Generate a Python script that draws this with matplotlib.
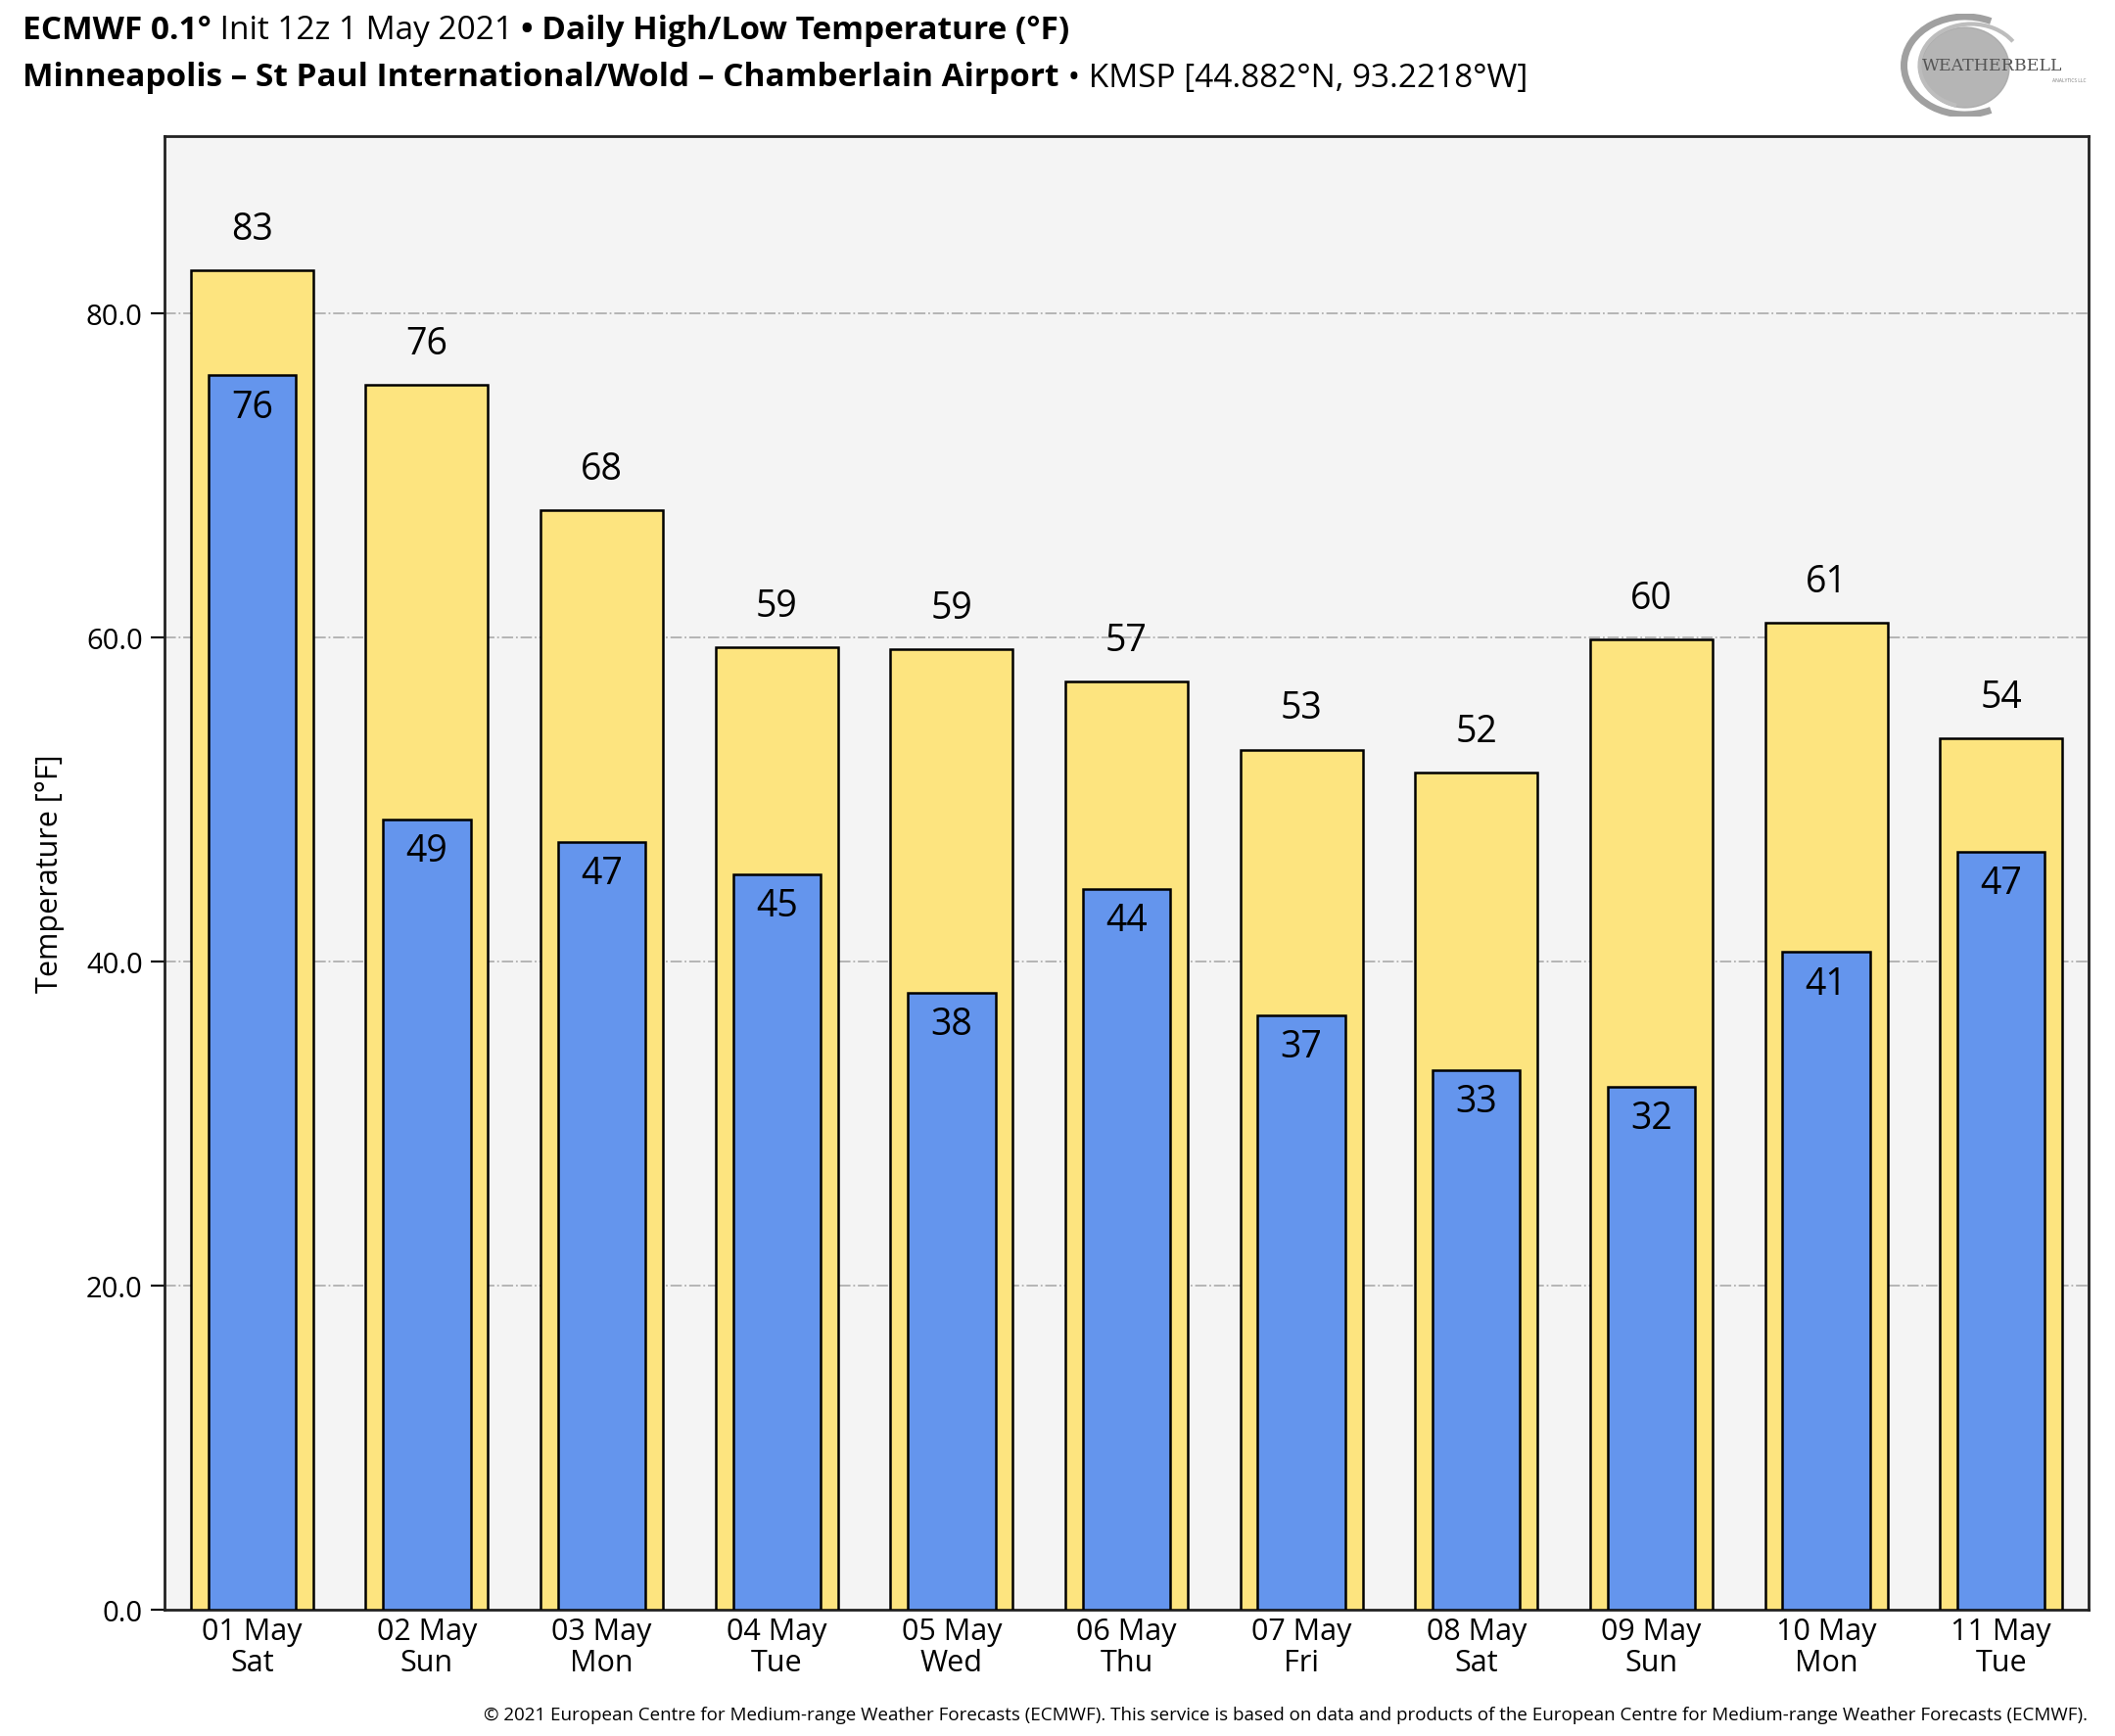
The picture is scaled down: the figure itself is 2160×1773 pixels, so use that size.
import numpy as np
import matplotlib
matplotlib.use("Agg")
import matplotlib.pyplot as plt
from matplotlib.patches import Ellipse, Arc

plt.rcParams['font.family'] = ['Open Sans', 'Noto Sans', 'DejaVu Sans']

# forecast data
days = ["01 May\nSat", "02 May\nSun", "03 May\nMon", "04 May\nTue", "05 May\nWed",
        "06 May\nThu", "07 May\nFri", "08 May\nSat", "09 May\nSun", "10 May\nMon",
        "11 May\nTue"]
highs = [82.7, 75.6, 67.9, 59.4, 59.3, 57.3, 53.1, 51.7, 59.9, 60.9, 53.8]
lows = [76.2, 48.8, 47.4, 45.4, 38.1, 44.5, 36.7, 33.3, 32.3, 40.6, 46.8]
yticks = [0, 20, 40, 60, 80]

W, H = 2160, 1774
fig = plt.figure(figsize=(W / 100, H / 100), dpi=100)
ax = fig.add_axes([168 / W, 1 - 1645 / H, (2133 - 168) / W, (1645 - 140) / H])
ax.set_facecolor('#f4f4f4')

x = np.arange(len(days))
ax.bar(x, highs, width=0.7, color='#fde47f', edgecolor='black', linewidth=1.8, zorder=3)
ax.bar(x, lows, width=0.5, color='#6495ed', edgecolor='black', linewidth=1.8, zorder=4)

for i in range(len(days)):
    ax.text(x[i], highs[i] + 1.4, "%d" % round(highs[i]), ha='center', va='bottom',
            fontsize=27, zorder=5)
    ax.text(x[i], lows[i] - 0.8, "%d" % round(lows[i]), ha='center', va='top',
            fontsize=27, zorder=5)

ax.set_xlim(-0.5, len(days) - 0.5)
ax.set_ylim(0, max(highs) * 1.1)
ax.set_yticks(yticks)
ax.set_yticklabels(["%.1f" % t for t in yticks], fontsize=21)
ax.set_xticks(x)
ax.set_xticklabels(days, fontsize=22, linespacing=1.1)
ax.tick_params(axis='x', length=0, pad=5)
ax.tick_params(axis='y', length=10, width=1.5, pad=6)
for t in yticks[1:]:
    ax.axhline(t, color='#b0b0b0', linestyle='-.', linewidth=1.3, zorder=1)
for s in ax.spines.values():
    s.set_linewidth(2)
    s.set_color('#222222')
ax.set_ylabel("Temperature [°F]", fontsize=22, labelpad=16)

# title lines with mixed weights
def line(parts, y):
    fig.canvas.draw()
    r = fig.canvas.get_renderer()
    xpos = 23
    for txt, wt in parts:
        t = fig.text(xpos / W, 1 - y / H, txt, fontsize=24, fontweight=wt, va='center')
        bb = t.get_window_extent(renderer=r)
        xpos += bb.width

line([("ECMWF 0.1°", 'bold'), (" Init 12z 1 May 2021 ", 'normal'),
      ("• Daily High/Low Temperature (°F)", 'bold')], 31)
line([("Minneapolis – St Paul International/Wold – Chamberlain Airport", 'bold'),
      (" • KMSP [44.882°N, 93.2218°W]", 'normal')], 80)

# logo
la = fig.add_axes([1935 / W, 1 - 120 / H, 200 / W, 105 / H])
la.set_xlim(0, 2)
la.set_ylim(0, 1.05)
la.axis('off')
la.add_patch(Ellipse((0.72, 0.5), 0.9, 0.82, color='#a8a8a8', alpha=0.85))
la.add_patch(Arc((0.72, 0.52), 1.25, 1.0, theta1=60, theta2=300, ec='#a0a0a0', lw=5))
la.add_patch(Arc((0.78, 0.52), 1.05, 0.85, theta1=30, theta2=250, ec='#bdbdbd', lw=3))
la.text(0.28, 0.52, "WEATHERBELL", fontsize=12.5, family='DejaVu Serif', color='#555555',
        va='center', ha='left')
la.text(1.95, 0.36, "ANALYTICS LLC", fontsize=3.5, color='#777777', ha='right')

fig.text(2132 / W, 1 - 1752 / H,
         "© 2021 European Centre for Medium-range Weather Forecasts (ECMWF). This service is "
         "based on data and products of the European Centre for Medium-range Weather Forecasts (ECMWF).",
         fontsize=13.5, ha='right', va='center')

fig.savefig("out.png", dpi=100, facecolor='white')
